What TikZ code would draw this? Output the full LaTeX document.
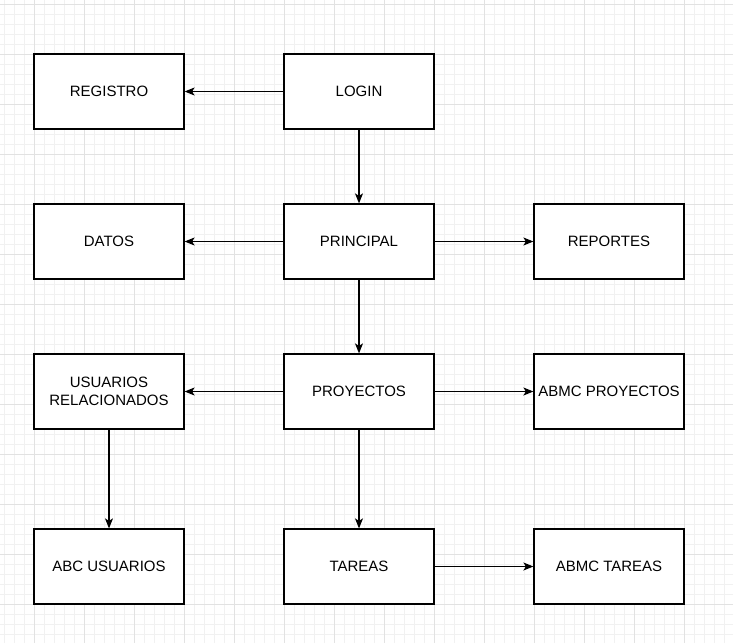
\documentclass[tikz,border=0pt]{standalone}
\usepackage{fontspec}
\setmainfont{Liberation Sans}
\usetikzlibrary{arrows.meta}
\definecolor{gridminor}{HTML}{F1F1F1}
\definecolor{gridmajor}{HTML}{E2E2E2}
\tikzset{
  pantalla/.style={draw=black,line width=1.25pt,fill=white,minimum width=150pt,minimum height=75pt,inner sep=0pt,align=center,font=\fontsize{15}{18}\selectfont},
  flecha/.style={line width=1.25pt,-{Stealth[length=10pt,width=8pt,inset=2.5pt]}}
}
\begin{document}
\begin{tikzpicture}[x=1pt,y=-1pt]
\useasboundingbox (0,0) rectangle (733,643);
%grid
\fill[white] (0,0) rectangle (733,643);
\foreach \gx in {4,14,...,733} \draw[gridminor,line width=1pt] (\gx,0) -- (\gx,643);
\foreach \gy in {4,14,...,643} \draw[gridminor,line width=1pt] (0,\gy) -- (733,\gy);
\foreach \gx in {34,84,...,733} \draw[gridmajor,line width=1pt] (\gx,0) -- (\gx,643);
\foreach \gy in {4,54,...,643} \draw[gridmajor,line width=1pt] (0,\gy) -- (733,\gy);
%
\node[pantalla] (login) at (359,91.5) {LOGIN};
\node[pantalla] (registro) at (109,91.5) {REGISTRO};
\node[pantalla] (principal) at (359,241.5) {PRINCIPAL};
\node[pantalla] (datos) at (109,241.5) {DATOS};
\node[pantalla] (reportes) at (609,241.5) {REPORTES};
\node[pantalla] (proyectos) at (359,391.5) {PROYECTOS};
\node[pantalla] (usuarios) at (109,391.5) {USUARIOS\\RELACIONADOS};
\node[pantalla] (abmcproy) at (609,391.5) {ABMC PROYECTOS};
\node[pantalla] (abcusu) at (109,566.5) {ABC USUARIOS};
\node[pantalla] (tareas) at (359,566.5) {TAREAS};
\node[pantalla] (abmctar) at (609,566.5) {ABMC TAREAS};
%flechas
\draw[flecha] (login) -- (registro);
\draw[flecha] (login) -- (principal);
\draw[flecha] (principal) -- (datos);
\draw[flecha] (principal) -- (reportes);
\draw[flecha] (principal) -- (proyectos);
\draw[flecha] (proyectos) -- (usuarios);
\draw[flecha] (proyectos) -- (abmcproy);
\draw[flecha] (proyectos) -- (tareas);
\draw[flecha] (usuarios) -- (abcusu);
\draw[flecha] (tareas) -- (abmctar);
\end{tikzpicture}
\end{document}
